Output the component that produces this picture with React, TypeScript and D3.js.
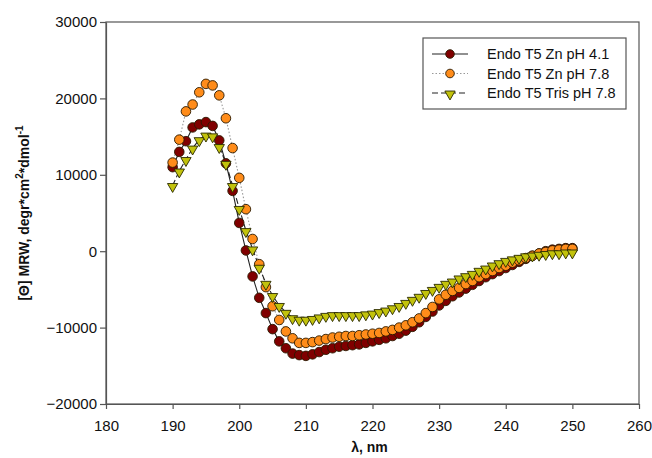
import React, { useRef, useEffect } from "react";
import * as d3 from "d3";

// wavelength, nm
const wavelengths = d3.range(190, 251);

const znPH41 = [
  11000, 13000, 14400, 16200, 16600, 16900, 16400, 14500, 11500, 7900,
  3700, 100, -3300, -6100, -8100, -10200, -11800, -12700, -13400, -13600,
  -13700, -13500, -13200, -12900, -12700, -12500, -12400, -12300, -12200, -12000,
  -11800, -11600, -11400, -11100, -10800, -10400, -9900, -9300, -8600, -7900,
  -7100, -6500, -5900, -5400, -4900, -4400, -3900, -3400, -3000, -2600,
  -2200, -1800, -1400, -1000, -600, -300, 0, 200, 300, 400,
  400,
];

const znPH78 = [
  11600, 14600, 18300, 19200, 20800, 21900, 21700, 20400, 17400, 13500,
  9600, 5500, 1600, -1700, -4700, -7200, -9000, -10500, -11400, -12000,
  -12000, -11900, -11700, -11500, -11300, -11200, -11100, -11100, -11000, -10900,
  -10800, -10700, -10500, -10300, -10000, -9700, -9300, -8800, -8100, -7300,
  -6300, -5700, -5200, -4800, -4300, -3900, -3400, -3000, -2600, -2200,
  -1900, -1500, -1200, -900, -600, -300, -100, 100, 200, 300,
  300,
];

const trisPH78 = [
  8600, 10500, 12000, 13500, 14600, 15200, 15100, 13700, 11500, 8600,
  5600, 2700, 300, -2100, -4200, -5800, -7100, -8000, -8700, -8900,
  -8900, -8800, -8600, -8400, -8300, -8300, -8300, -8300, -8300, -8200,
  -8100, -7900, -7700, -7400, -7100, -6700, -6300, -5900, -5400, -5000,
  -4600, -4200, -3900, -3500, -3200, -2900, -2500, -2200, -1800, -1500,
  -1200, -1000, -800, -600, -500, -400, -300, -200, -200, -100,
  -100,
];

const xTicks = [180, 190, 200, 210, 220, 230, 240, 250, 260];
const yTicks = [-20000, -10000, 0, 10000, 20000, 30000];

const seriesList = [
  { name: "Endo T5 Zn pH 4.1", values: znPH41, fill: "#800000", line: "#222", dash: null, marker: "circle" },
  { name: "Endo T5 Zn pH 7.8", values: znPH78, fill: "#ff8c1a", line: "#999", dash: "1.5,2", marker: "circle" },
  { name: "Endo T5 Tris pH 7.8", values: trisPH78, fill: "#c2c20c", line: "#222", dash: "6,3", marker: "triangle" },
];

const W = 652;
const H = 458;
const margin = { left: 106, right: 13, top: 22, bottom: 54 };
const font = "'Liberation Sans', Arial, sans-serif";

function App() {
  const svgRef = useRef(null);

  useEffect(() => {
    const svg = d3.select(svgRef.current);
    svg.selectAll("*").remove();

    const xscale = d3.scaleLinear().domain([180, 260]).range([margin.left, W - margin.right]);
    const yscale = d3.scaleLinear().domain([-20000, 30000]).range([H - margin.bottom, margin.top]);

    const frameColor = "#555";

    // frame
    svg.append("rect")
      .attr("x", margin.left)
      .attr("y", margin.top)
      .attr("width", W - margin.right - margin.left)
      .attr("height", H - margin.bottom - margin.top)
      .attr("fill", "none")
      .attr("stroke", frameColor)
      .attr("stroke-width", 1.2);

    const xaxis = d3.axisBottom(xscale).tickValues(xTicks).tickFormat(d3.format("d")).tickSize(5).tickSizeOuter(0).tickPadding(11);
    const gx = svg.append("g")
      .attr("transform", `translate(0,${H - margin.bottom})`)
      .call(xaxis);

    const yaxis = d3.axisLeft(yscale).tickValues(yTicks).tickFormat(d3.format("d")).tickSize(6).tickSizeOuter(0).tickPadding(3);
    const gy = svg.append("g")
      .attr("transform", `translate(${margin.left},0)`)
      .call(yaxis);

    [gx, gy].forEach((g) => {
      g.select(".domain").attr("stroke", frameColor).attr("stroke-width", 1.2);
      g.selectAll(".tick line").attr("stroke", frameColor).attr("stroke-width", 1.2);
      g.selectAll(".tick text")
        .attr("fill", "#111")
        .style("font-family", font)
        .style("font-size", "15px");
    });

    // lines first
    seriesList.forEach((s) => {
      const myLine = d3.line()
        .x((d, i) => xscale(wavelengths[i]))
        .y((d) => yscale(d));
      svg.append("path")
        .datum(s.values)
        .attr("d", myLine)
        .attr("fill", "none")
        .attr("stroke", s.line)
        .attr("stroke-width", 1.1)
        .attr("stroke-dasharray", s.dash);
    });

    const tri = d3.symbol().type(d3.symbolTriangle).size(46);

    const drawMarker = (g, s, x, y, r = 4.8) => {
      if (s.marker === "circle") {
        g.append("circle")
          .attr("cx", x)
          .attr("cy", y)
          .attr("r", r)
          .attr("fill", s.fill)
          .attr("stroke", "#2a1a00")
          .attr("stroke-width", 0.9);
      } else {
        g.append("path")
          .attr("d", tri())
          .attr("transform", `translate(${x},${y + 1}) rotate(180)`)
          .attr("fill", s.fill)
          .attr("stroke", "#2a2a00")
          .attr("stroke-width", 0.9);
      }
    };

    seriesList.forEach((s) => {
      const g = svg.append("g");
      s.values.forEach((v, i) => drawMarker(g, s, xscale(wavelengths[i]), yscale(v)));
    });

    // legend
    const lg = svg.append("g");
    lg.append("rect")
      .attr("x", 423)
      .attr("y", 38)
      .attr("width", 203)
      .attr("height", 71)
      .attr("fill", "white")
      .attr("stroke", frameColor)
      .attr("stroke-width", 1.2);
    seriesList.forEach((s, i) => {
      const ly = 54 + i * 19.5;
      lg.append("line")
        .attr("x1", 432).attr("x2", 468)
        .attr("y1", ly).attr("y2", ly)
        .attr("stroke", s.line)
        .attr("stroke-width", 1.1)
        .attr("stroke-dasharray", s.dash);
      drawMarker(lg, s, 450, ly, 4.3);
      lg.append("text")
        .attr("x", 487)
        .attr("y", ly + 5)
        .attr("fill", "#111")
        .style("font-family", font)
        .style("font-size", "14.5px")
        .text(s.name);
    });

    // axis titles
    svg.append("text")
      .attr("x", (margin.left + W - margin.right) / 2 - 3)
      .attr("y", 452)
      .attr("text-anchor", "middle")
      .attr("fill", "#111")
      .style("font-family", font)
      .style("font-size", "14px")
      .style("font-weight", "bold")
      .text("λ, nm");

    const yt = svg.append("text")
      .attr("transform", `translate(29,213) rotate(-90)`)
      .attr("text-anchor", "middle")
      .attr("fill", "#111")
      .style("font-family", font)
      .style("font-size", "14px")
      .style("font-weight", "bold");
    yt.append("tspan").text("[Θ] MRW, degr*cm");
    yt.append("tspan").attr("dy", -6).style("font-size", "10px").text("2");
    yt.append("tspan").attr("dy", 6).text("*dmol");
    yt.append("tspan").attr("dy", -6).style("font-size", "10px").text("-1");
  }, []);

  return (
    <div style={{ position: "absolute", left: 0, top: 0 }}>
      <svg ref={svgRef} width={W} height={H} style={{ display: "block", background: "white" }}></svg>
    </div>
  );
}

export default App;
